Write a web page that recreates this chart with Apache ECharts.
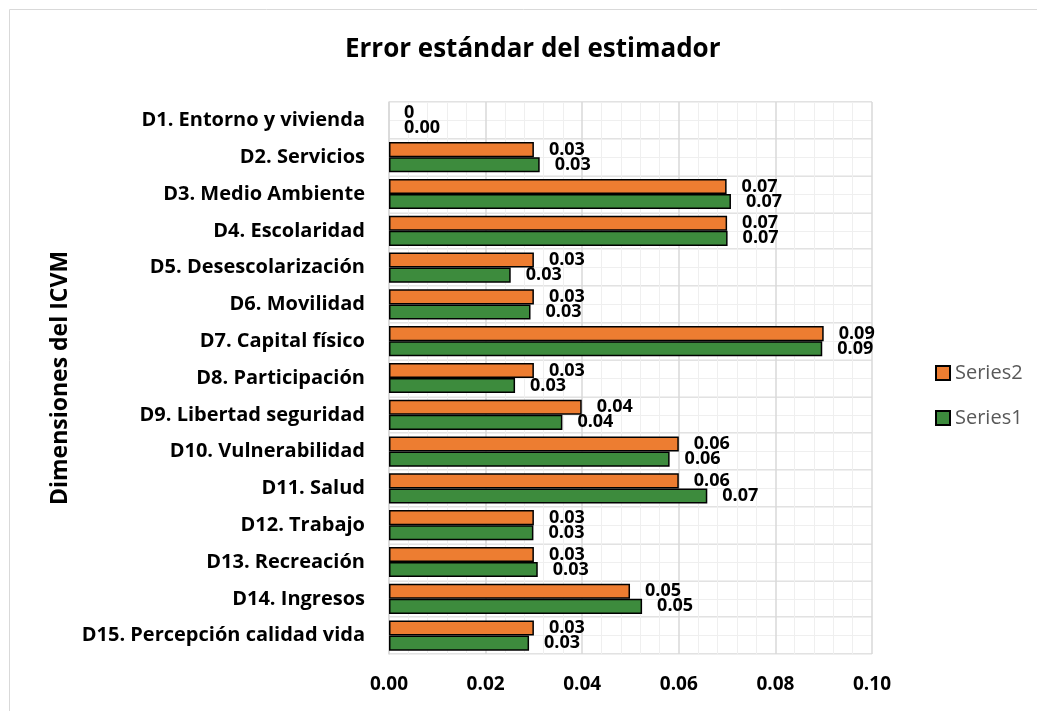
<!DOCTYPE html>
<html><head><meta charset="utf-8">
<script src="https://cdn.jsdelivr.net/npm/echarts@6/dist/echarts.min.js"></script>
<style>html,body{margin:0;padding:0;background:#fff}#c{width:1037px;height:711px}</style>
</head><body><div id="c"></div>
<script>
const categories = ['D1. Entorno y vivienda','D2. Servicios','D3. Medio Ambiente','D4. Escolaridad','D5. Desescolarización','D6. Movilidad','D7. Capital físico','D8. Participación','D9. Libertad seguridad','D10. Vulnerabilidad','D11. Salud','D12. Trabajo','D13. Recreación','D14. Ingresos','D15. Percepción calidad vida'];
const series1 = [0, 0.0312, 0.0708, 0.0701, 0.0252, 0.0293, 0.0897, 0.0261, 0.0359, 0.0581, 0.0659, 0.0299, 0.0308, 0.0524, 0.0290];
const series2 = [0, 0.0300, 0.0699, 0.0700, 0.0300, 0.0300, 0.0900, 0.0300, 0.0399, 0.0600, 0.0600, 0.0300, 0.0300, 0.0499, 0.0300];
const xTicks = [0, 0.02, 0.04, 0.06, 0.08, 0.10];

const FONT = 'Open Sans';
const chart = echarts.init(document.getElementById('c'));
const lbl = (zeroPlain) => ({
  show: true, position: 'right', distance: 15,
  fontFamily: FONT, fontWeight: 'bold', fontSize: 18, color: '#000',
  formatter: p => (zeroPlain && p.value === 0) ? '0' : p.value.toFixed(2)
});
const items = arr => arr.map(v => v === 0 ? { value: v, itemStyle: { borderWidth: 0 } } : v);
chart.setOption({
  animation: false,
  title: { text: 'Error estándar del estimador', left: 340, top: 32,
    textStyle: { fontFamily: FONT, fontWeight: 'bold', fontSize: 26, color: '#000' } },
  graphic: [{ type: 'rect', shape: { x: 9.5, y: 9.5, width: 1100, height: 800 },
    style: { fill: 'none', stroke: '#d9d9d9', lineWidth: 1 }, silent: true }],
  legend: { orient: 'vertical', left: 930, top: 358, itemGap: 25, itemWidth: 14, itemHeight: 14,
    icon: 'rect', data: ['Series2', 'Series1'],
    textStyle: { fontFamily: FONT, fontSize: 20, color: '#595959', lineHeight: 20 } },
  grid: { left: 389, right: 165, top: 102, bottom: 57, containLabel: false },
  xAxis: { type: 'value', min: 0, max: 0.1, interval: 0.02,
    axisLine: { show: false }, axisTick: { show: false },
    axisLabel: { fontFamily: FONT, fontWeight: 'bold', fontSize: 19, color: '#000', margin: 21,
      formatter: v => { const t = xTicks.find(x => Math.abs(x - v) < 1e-9); return (t === undefined ? v : t).toFixed(2); } },
    splitLine: { show: true, lineStyle: { color: '#d9d9d9', width: 1.5 } },
    minorTick: { show: false, splitNumber: 5 },
    minorSplitLine: { show: true, lineStyle: { color: '#efefef', width: 1 } } },
  yAxis: [{ type: 'category', data: categories, inverse: true,
    axisLine: { show: true, lineStyle: { color: '#d9d9d9', width: 1.5 } }, axisTick: { show: false },
    axisLabel: { fontFamily: FONT, fontWeight: 'bold', fontSize: 20, color: '#000', margin: 24 },
    splitLine: { show: true, lineStyle: { color: '#d9d9d9', width: 1.5 } },
    name: 'Dimensiones del ICVM', nameLocation: 'middle', nameGap: 317, nameRotate: 90,
    nameTextStyle: { fontFamily: FONT, fontWeight: 'bold', fontSize: 23, color: '#000' } },
   { type: 'value', min: 0, max: 30, interval: 1, show: true, position: 'right',
    axisLine: { show: false }, axisTick: { show: false }, axisLabel: { show: false },
    splitLine: { show: true, lineStyle: { color: '#efefef', width: 1 } } }],
  series: [
    { name: 'Series2', type: 'bar', data: items(series2), barGap: '0%', barCategoryGap: '18%',
      itemStyle: { color: '#ed7d31', borderColor: '#000', borderWidth: 1.5 }, label: lbl(true), z: 3 },
    { name: 'Series1', type: 'bar', data: items(series1), barGap: '0%', barCategoryGap: '18%',
      itemStyle: { color: '#3d8b3d', borderColor: '#000', borderWidth: 1.5 }, label: lbl(false), z: 3 }
  ]
});
</script></body></html>
